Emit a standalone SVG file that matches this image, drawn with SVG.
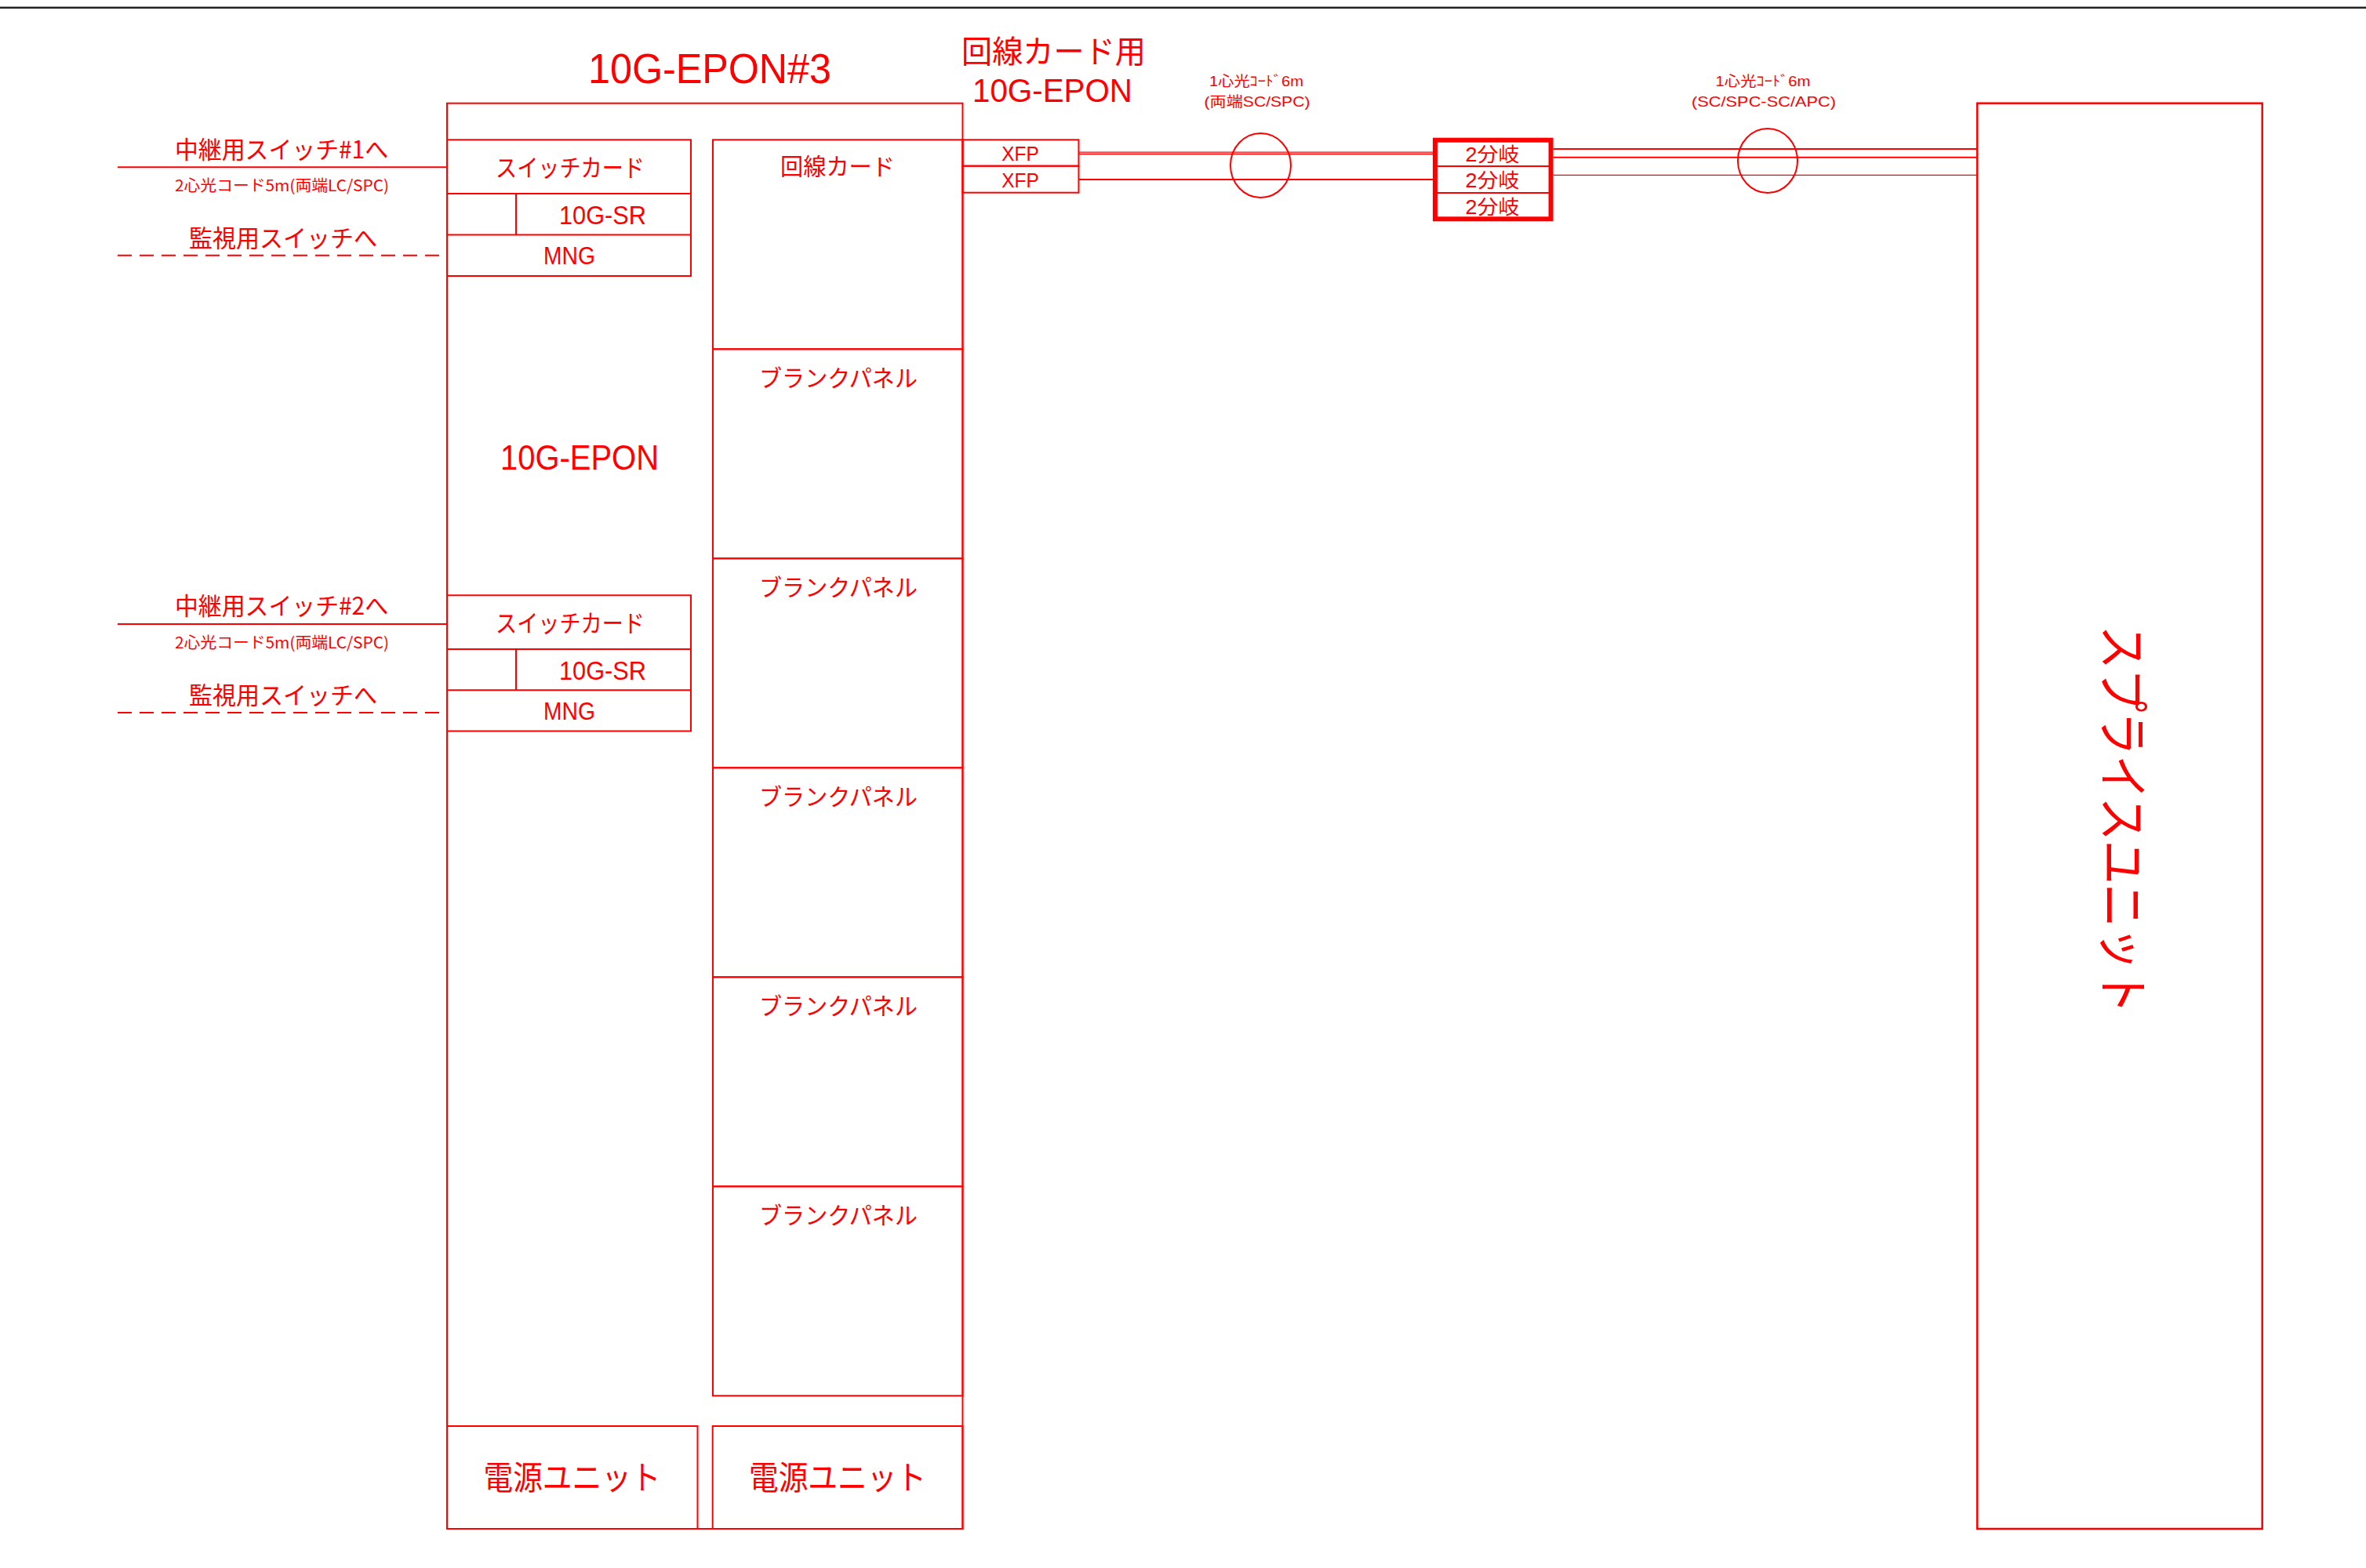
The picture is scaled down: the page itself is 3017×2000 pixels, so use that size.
<svg xmlns="http://www.w3.org/2000/svg" width="3017" height="2000" viewBox="0 0 3017 2000">
<style>
.bx{fill:none;stroke:#ff0000;stroke-width:2}
.ln{fill:none;stroke:#ff0000;stroke-width:2}
.thin{fill:none;stroke:#ff0000;stroke-width:1.3}
.dash{fill:none;stroke:#ff0000;stroke-width:2;stroke-dasharray:18 10}
.t{font-family:"Liberation Sans","Noto Sans CJK JP",sans-serif;fill:#ff0000;text-anchor:middle}
.j{font-family:"Noto Sans CJK JP","Liberation Sans",sans-serif;fill:#ff0000;text-anchor:middle}
</style>
<rect x="0" y="0" width="3017" height="2000" fill="#ffffff"/>
<rect x="0" y="8" width="3017" height="1" fill="#999999"/>
<rect x="0" y="9" width="3017" height="2" fill="#222222"/>

<g id="titles">
<text class="t" x="905" y="105.7" font-size="54" textLength="310" lengthAdjust="spacingAndGlyphs">10G-EPON#3</text>
<text class="j" x="1343.5" y="80" font-size="40" textLength="235" lengthAdjust="spacingAndGlyphs">回線カード用</text>
<text class="t" x="1342" y="130" font-size="42" textLength="204" lengthAdjust="spacingAndGlyphs">10G-EPON</text>
</g>

<g id="chassis">
<rect class="bx" x="570" y="131.7" width="657.5" height="1818.3"/>
<text class="t" x="739" y="599.3" font-size="43.5" textLength="202" lengthAdjust="spacingAndGlyphs">10G-EPON</text>
</g>

<g id="switch-card-1">
<rect class="bx" x="570" y="178.3" width="311" height="173.7"/>
<line class="ln" x1="570" y1="247" x2="881" y2="247"/>
<line class="ln" x1="570" y1="299.5" x2="881" y2="299.5"/>
<line class="ln" x1="658" y1="247" x2="658" y2="299.5"/>
<text class="j" x="727" y="225" font-size="31" textLength="190" lengthAdjust="spacingAndGlyphs">スイッチカード</text>
<text class="t" x="768.5" y="285.7" font-size="33" textLength="111" lengthAdjust="spacingAndGlyphs">10G-SR</text>
<text class="t" x="726" y="336.7" font-size="32" textLength="66" lengthAdjust="spacingAndGlyphs">MNG</text>
</g>

<g id="switch-card-2">
<rect class="bx" x="570" y="759.3" width="311" height="173.2"/>
<line class="ln" x1="570" y1="828" x2="881" y2="828"/>
<line class="ln" x1="570" y1="880.3" x2="881" y2="880.3"/>
<line class="ln" x1="658" y1="828" x2="658" y2="880.3"/>
<text class="j" x="727" y="806" font-size="31" textLength="190" lengthAdjust="spacingAndGlyphs">スイッチカード</text>
<text class="t" x="768.5" y="866.5" font-size="33" textLength="111" lengthAdjust="spacingAndGlyphs">10G-SR</text>
<text class="t" x="726" y="917.5" font-size="32" textLength="66" lengthAdjust="spacingAndGlyphs">MNG</text>
</g>

<g id="line-card">
<rect class="bx" x="909" y="178.3" width="318.5" height="267"/>
<text class="j" x="1068" y="223" font-size="30" textLength="146" lengthAdjust="spacingAndGlyphs">回線カード</text>
</g>
<g id="blank-panel-1">
<rect class="bx" x="909" y="445.3" width="318.5" height="267"/>
<text class="j" x="1069" y="492.6" font-size="30" textLength="202" lengthAdjust="spacingAndGlyphs">ブランクパネル</text>
</g>
<g id="blank-panel-2">
<rect class="bx" x="909" y="712.3" width="318.5" height="267"/>
<text class="j" x="1069" y="759.6" font-size="30" textLength="202" lengthAdjust="spacingAndGlyphs">ブランクパネル</text>
</g>
<g id="blank-panel-3">
<rect class="bx" x="909" y="979.3" width="318.5" height="267"/>
<text class="j" x="1069" y="1026.6" font-size="30" textLength="202" lengthAdjust="spacingAndGlyphs">ブランクパネル</text>
</g>
<g id="blank-panel-4">
<rect class="bx" x="909" y="1246.3" width="318.5" height="267"/>
<text class="j" x="1069" y="1293.6" font-size="30" textLength="202" lengthAdjust="spacingAndGlyphs">ブランクパネル</text>
</g>
<g id="blank-panel-5">
<rect class="bx" x="909" y="1513.3" width="318.5" height="267"/>
<text class="j" x="1069" y="1560.6" font-size="30" textLength="202" lengthAdjust="spacingAndGlyphs">ブランクパネル</text>
</g>

<g id="power-unit-1">
<rect class="bx" x="570" y="1819" width="319.5" height="131"/>
<text class="j" x="729.5" y="1900" font-size="42" textLength="226" lengthAdjust="spacingAndGlyphs">電源ユニット</text>
</g>
<g id="power-unit-2">
<rect class="bx" x="908.7" y="1819" width="318.8" height="131"/>
<text class="j" x="1068" y="1900" font-size="42" textLength="226" lengthAdjust="spacingAndGlyphs">電源ユニット</text>
</g>

<g id="xfp-1">
<rect class="bx" x="1227.5" y="178.3" width="148" height="33.4"/>
<text class="t" x="1301" y="205" font-size="25" textLength="47.5" lengthAdjust="spacingAndGlyphs">XFP</text>
</g>
<g id="xfp-2">
<rect class="bx" x="1227.5" y="211.7" width="148" height="34"/>
<text class="t" x="1301" y="238.5" font-size="25" textLength="47.5" lengthAdjust="spacingAndGlyphs">XFP</text>
</g>

<g id="splitter">
<rect x="1830" y="178.7" width="147.6" height="100.6" fill="none" stroke="#ff0000" stroke-width="6"/>
<line class="ln" x1="1830" y1="212" x2="1977.6" y2="212" stroke-width="2.5"/>
<line class="ln" x1="1830" y1="246" x2="1977.6" y2="246" stroke-width="2.5"/>
<text class="t" x="1903" y="205.5" font-size="25" textLength="69" lengthAdjust="spacingAndGlyphs">2分岐</text>
<text class="t" x="1903" y="239" font-size="25" textLength="69" lengthAdjust="spacingAndGlyphs">2分岐</text>
<text class="t" x="1903" y="272.5" font-size="25" textLength="69" lengthAdjust="spacingAndGlyphs">2分岐</text>
</g>

<g id="splice-unit">
<rect x="2521.3" y="131.7" width="363.4" height="1818.3" fill="none" stroke="#ff0000" stroke-width="2.5"/>
<g transform="translate(2706.5,1045.5) rotate(90)">
<text class="j" x="0" y="24" font-size="66" textLength="495" lengthAdjust="spacingAndGlyphs">スプライスユニット</text>
</g>
</g>

<g id="connectors">
<line class="ln" x1="150" y1="213.3" x2="570" y2="213.3"/>
<line class="dash" x1="150" y1="325.7" x2="570" y2="325.7"/>
<line class="ln" x1="150" y1="796" x2="570" y2="796"/>
<line class="dash" x1="150" y1="909" x2="570" y2="909"/>
<line class="thin" x1="1375.5" y1="194.2" x2="1827" y2="194.2"/>
<line class="thin" x1="1375.5" y1="196.5" x2="1827" y2="196.5"/>
<line class="ln" x1="1375.5" y1="229" x2="1827" y2="229"/>
<ellipse class="ln" cx="1607.5" cy="211" rx="38.5" ry="41"/>
<line class="ln" x1="1980.6" y1="190" x2="2521.3" y2="190"/>
<line class="ln" x1="1980.6" y1="200.7" x2="2521.3" y2="200.7"/>
<line class="thin" x1="1980.6" y1="223.3" x2="2521.3" y2="223.3"/>
<ellipse class="ln" cx="2254" cy="205" rx="38" ry="41"/>
</g>

<g id="labels">
<text class="j" x="359" y="202" font-size="31" textLength="272" lengthAdjust="spacingAndGlyphs">中継用スイッチ#1へ</text>
<text class="j" x="359.5" y="244" font-size="20" textLength="273" lengthAdjust="spacingAndGlyphs">2心光コード5m(両端LC/SPC)</text>
<text class="j" x="361" y="315" font-size="31" textLength="240" lengthAdjust="spacingAndGlyphs">監視用スイッチへ</text>
<text class="j" x="359" y="783.5" font-size="31" textLength="272" lengthAdjust="spacingAndGlyphs">中継用スイッチ#2へ</text>
<text class="j" x="359.5" y="827" font-size="20" textLength="273" lengthAdjust="spacingAndGlyphs">2心光コード5m(両端LC/SPC)</text>
<text class="j" x="361" y="897.5" font-size="31" textLength="240" lengthAdjust="spacingAndGlyphs">監視用スイッチへ</text>
<text class="t" x="1602" y="109.5" font-size="18" textLength="120" lengthAdjust="spacingAndGlyphs">1心光ｺｰﾄﾞ6m</text>
<text class="t" x="1603" y="136" font-size="18" textLength="135" lengthAdjust="spacingAndGlyphs">(両端SC/SPC)</text>
<text class="t" x="2248" y="109.5" font-size="18" textLength="121" lengthAdjust="spacingAndGlyphs">1心光ｺｰﾄﾞ6m</text>
<text class="t" x="2249" y="136" font-size="18" textLength="184" lengthAdjust="spacingAndGlyphs">(SC/SPC-SC/APC)</text>
</g>
</svg>
